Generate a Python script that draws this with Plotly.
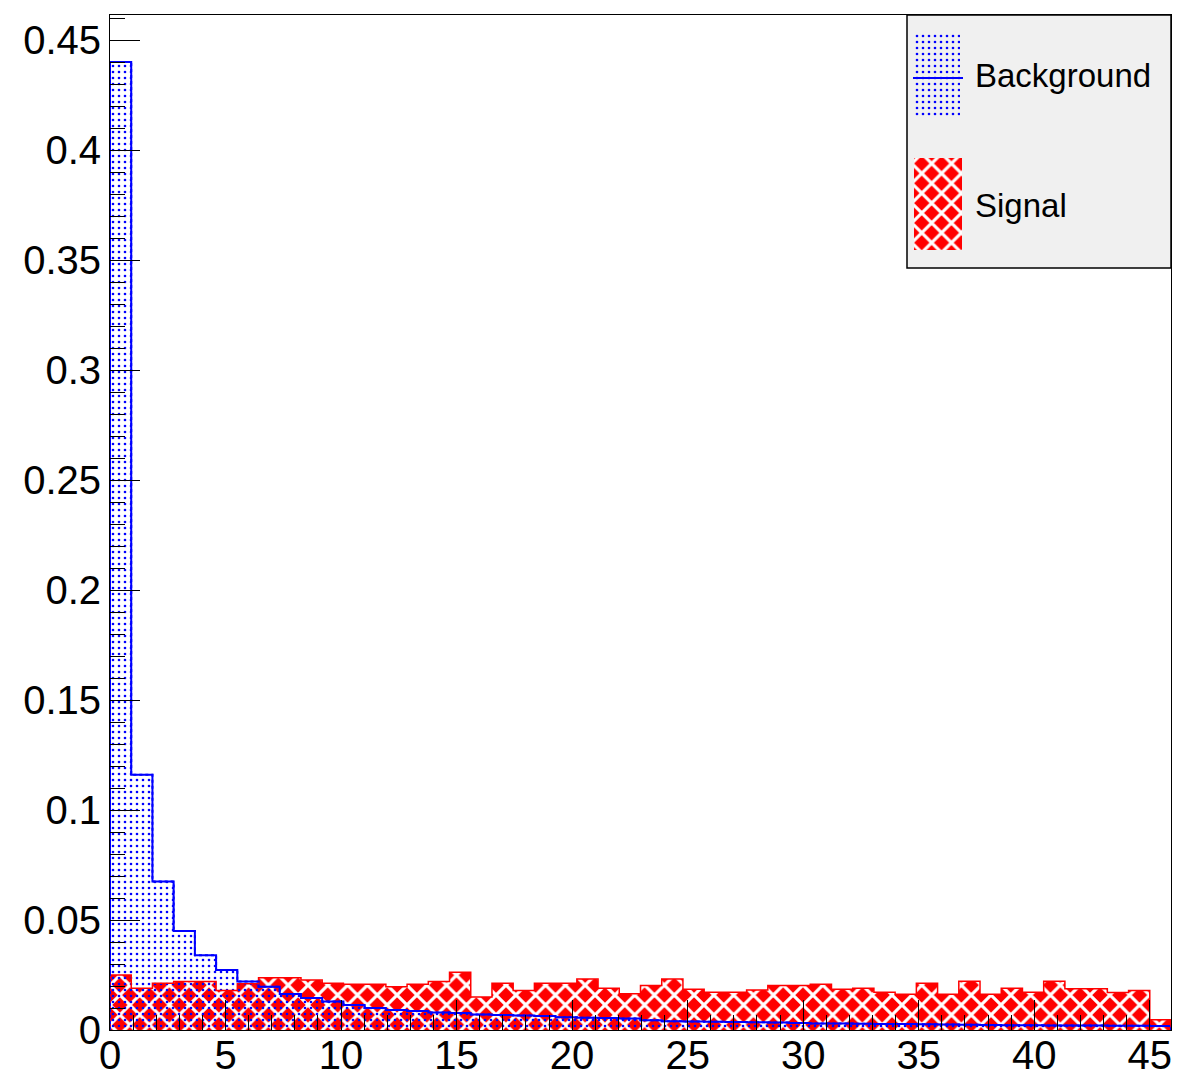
import plotly.graph_objects as go

# Histogram binning
x_lo, x_hi, n_bins = 0.0, 45.92, 50

# Normalised bin contents
background = [0.440, 0.116, 0.0675, 0.045, 0.034, 0.0273, 0.022, 0.0197, 0.0164, 0.0145,
              0.0129, 0.0114, 0.0100, 0.0091, 0.0086, 0.0080, 0.0077, 0.0070, 0.0068, 0.0066,
              0.0064, 0.0058, 0.0056, 0.0054, 0.0052, 0.0044, 0.0040, 0.0039, 0.0037, 0.0036,
              0.0035, 0.0034, 0.0032, 0.0030, 0.0029, 0.0028, 0.0027, 0.0027, 0.0026, 0.0025,
              0.0024, 0.0023, 0.0022, 0.0022, 0.0021, 0.0020, 0.0020, 0.0019, 0.0019, 0.0018]
signal = [0.0250, 0.0190, 0.0212, 0.0220, 0.0220, 0.0180, 0.0210, 0.0238, 0.0238, 0.0227,
          0.0212, 0.0208, 0.0208, 0.0197, 0.0208, 0.0220, 0.0262, 0.0150, 0.0212, 0.0180,
          0.0212, 0.0212, 0.0232, 0.0190, 0.0165, 0.0202, 0.0232, 0.0185, 0.0172, 0.0172,
          0.0182, 0.0202, 0.0202, 0.0208, 0.0185, 0.0190, 0.0172, 0.0163, 0.0212, 0.0163,
          0.0222, 0.0163, 0.0190, 0.0172, 0.0222, 0.0187, 0.0187, 0.0171, 0.0180, 0.0047]

y_tickvals = [0, 0.05, 0.1, 0.15, 0.2, 0.25, 0.3, 0.35, 0.4, 0.45]
y_ticktext = ["0", "0.05", "0.1", "0.15", "0.2", "0.25", "0.3", "0.35", "0.4", "0.45"]
x_tickvals = [0, 5, 10, 15, 20, 25, 30, 35, 40, 45]
x_ticktext = ["0", "5", "10", "15", "20", "25", "30", "35", "40", "45"]

legend_labels = ["Background", "Signal"]

W, H = 1177, 1080
L, R, T, B = 110, 6, 15, 50

bw = (x_hi - x_lo) / n_bins
edges = [x_lo + i * bw for i in range(n_bins + 1)]
centers = [x_lo + (i + 0.5) * bw for i in range(n_bins)]


def step_outline(vals):
    xs = [edges[0]] + edges[:-1] + [edges[-1], edges[-1]]
    ys = [0] + list(vals) + [vals[-1], 0]
    return xs, ys


BLUE = "#0000ff"
RED = "#ff0000"
dots = dict(shape=".", fgcolor=BLUE, bgcolor="rgba(0,0,0,0)", size=6, solidity=0.15,
            fillmode="replace")
weave = dict(shape="x", fgcolor="white", bgcolor=RED, size=14, solidity=0.4,
             fillmode="replace")

fig = go.Figure()

# Background: dotted fill with a solid step outline
fig.add_bar(x=centers, y=background, width=bw,
            marker=dict(color="rgba(0,0,0,0)", line=dict(width=0), pattern=dots),
            showlegend=False, hoverinfo="skip")
bx, by = step_outline(background)
fig.add_scatter(x=bx, y=by, mode="lines", line=dict(color=BLUE, width=2, shape="hv"),
                showlegend=False, hoverinfo="skip")

# Signal: red weave fill
fig.add_bar(x=centers, y=signal, width=bw,
            marker=dict(color=RED, line=dict(width=0), pattern=weave),
            showlegend=False, hoverinfo="skip")
sx, sy = step_outline(signal)
fig.add_scatter(x=sx, y=sy, mode="lines", line=dict(color=RED, width=1.5, shape="hv"),
                showlegend=False, hoverinfo="skip")

# Background showing through the signal hatching
overlap = [min(b, s) for b, s in zip(background, signal)]
fig.add_bar(x=centers, y=overlap, width=bw,
            marker=dict(color="rgba(0,0,0,0)", line=dict(width=0), pattern=dots),
            showlegend=False, hoverinfo="skip")
fig.add_scatter(x=bx, y=by, mode="lines",
                line=dict(color=BLUE, width=2, shape="hv", dash="dot"),
                showlegend=False, hoverinfo="skip")

# Legend box drawn in pixel-like coordinates on an overlay axis pair
px0, px1 = L, W - R
py0, py1 = H - B, T
fig.add_scatter(x=[915, 960, 960, 915, 915], y=[32, 32, 118, 118, 32],
                xaxis="x2", yaxis="y2", mode="none", fill="toself",
                fillcolor="rgba(0,0,0,0)", fillpattern=dots,
                showlegend=False, hoverinfo="skip")
fig.add_scatter(x=[913, 963], y=[78, 78], xaxis="x2", yaxis="y2", mode="lines",
                line=dict(color=BLUE, width=2), showlegend=False, hoverinfo="skip")
fig.add_scatter(x=[914, 962, 962, 914, 914], y=[158, 158, 250, 250, 158],
                xaxis="x2", yaxis="y2", mode="none", fill="toself",
                fillcolor=RED, fillpattern=weave,
                showlegend=False, hoverinfo="skip")

font = dict(family="Liberation Sans, Arial, sans-serif", color="black")

fig.update_layout(
    width=W, height=H,
    margin=dict(l=L, r=R, t=T, b=B, pad=0),
    paper_bgcolor="white", plot_bgcolor="white",
    barmode="overlay", bargap=0,
    font=dict(size=40, **font),
    showlegend=False,
    xaxis=dict(range=[x_lo, x_hi], tickmode="array", tickvals=x_tickvals,
               ticktext=x_ticktext, ticks="inside", ticklen=30, tickwidth=1,
               tickcolor="black", showline=True, linecolor="black", linewidth=1,
               mirror=True, showgrid=False, zeroline=False, automargin=False,
               ticklabelstandoff=-10,
               tickfont=dict(size=40, **font),
               minor=dict(tickmode="linear", tick0=0, dtick=1, ticks="inside",
                          ticklen=15, tickwidth=1, tickcolor="black", showgrid=False)),
    yaxis=dict(range=[0, 0.4614], tickmode="array", tickvals=y_tickvals,
               ticktext=y_ticktext, ticks="inside", ticklen=30, tickwidth=1,
               tickcolor="black", showline=True, linecolor="black", linewidth=1,
               mirror=True, showgrid=False, zeroline=False, automargin=False,
               tickfont=dict(size=40, **font),
               minor=dict(tickmode="linear", tick0=0, dtick=0.01, ticks="inside",
                          ticklen=15, tickwidth=1, tickcolor="black", showgrid=False)),
    xaxis2=dict(range=[px0, px1], overlaying="x", anchor="y2", visible=False),
    yaxis2=dict(range=[py0, py1], overlaying="y", anchor="x2", visible=False),
    shapes=[dict(type="rect", xref="x2", yref="y2", x0=907, x1=1171, y0=15, y1=268,
                 fillcolor="#f0f0f0", line=dict(color="black", width=1.5),
                 layer="below")],
    annotations=[
        dict(xref="x2", yref="y2", x=973, y=75, text=legend_labels[0], showarrow=False,
             xanchor="left", yanchor="middle", font=dict(size=33, **font)),
        dict(xref="x2", yref="y2", x=973, y=205, text=legend_labels[1], showarrow=False,
             xanchor="left", yanchor="middle", font=dict(size=33, **font)),
    ],
)

fig.write_html("out.html", config=dict(displayModeBar=False))
